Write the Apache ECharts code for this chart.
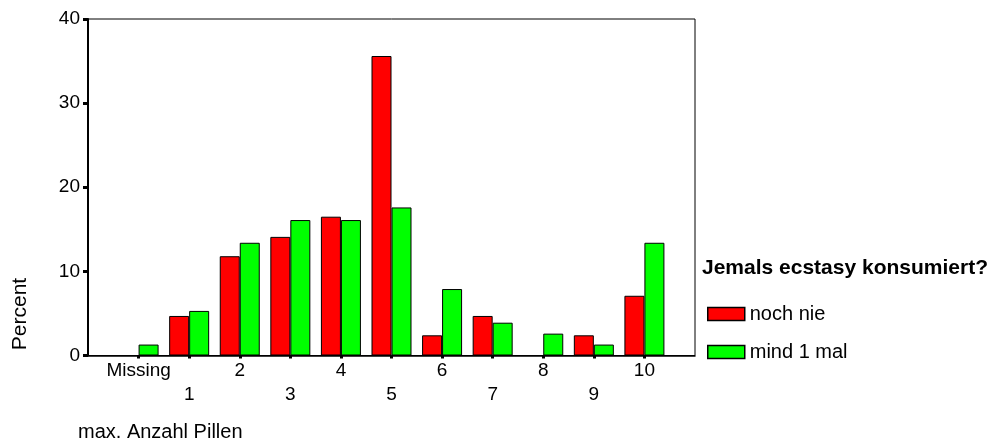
<!DOCTYPE html>
<html>
<head>
<meta charset="utf-8">
<script src="https://cdn.jsdelivr.net/npm/echarts@6/dist/echarts.min.js"></script>
<style>
html,body{margin:0;padding:0;background:#fff;}
#chart{width:996px;height:441px;}
</style>
</head>
<body>
<div id="chart"></div>
<script>
// Data
var categories = ['Missing', '1', '2', '3', '4', '5', '6', '7', '8', '9', '10'];
var seriesNames = ['noch nie', 'mind 1 mal'];
var neverPct = [0, 4.7, 11.8, 14.1, 16.5, 35.6, 2.4, 4.7, 0, 2.4, 7.1];
var oncePct = [1.3, 5.3, 13.4, 16.1, 16.1, 17.6, 7.9, 3.9, 2.6, 1.3, 13.4];
var yTicks = [0, 10, 20, 30, 40];
var legendTitle = 'Jemals ecstasy konsumiert?';
var xAxisTitle = 'max. Anzahl Pillen';
var yAxisTitle = 'Percent';

// padded axis so categories sit on whole-slot positions like the original
var axisData = [''].concat(categories, ['']);
function pad(arr) { return ['-'].concat(arr, ['-']); }

var FONT = '"Liberation Sans", Arial, sans-serif';
var chart = echarts.init(document.getElementById('chart'));
chart.setOption({
  backgroundColor: '#fff',
  animation: false,
  textStyle: { fontFamily: FONT, color: '#000' },
  title: [
    { text: legendTitle, left: 702, top: 258, padding: 0,
      textStyle: { fontFamily: FONT, fontSize: 21, fontWeight: 'bold', color: '#000', lineHeight: 21 } },
    { text: xAxisTitle, left: 78, top: 422, padding: 0,
      textStyle: { fontFamily: FONT, fontSize: 20, fontWeight: 'normal', color: '#000', lineHeight: 20 } }
  ],
  graphic: [
    { type: 'text', x: 20, y: 314, rotation: Math.PI / 2,
      style: { text: yAxisTitle, fill: '#000', font: '21px ' + FONT, align: 'center', verticalAlign: 'middle' } }
  ],
  legend: {
    data: seriesNames,
    orient: 'vertical',
    left: 707, top: 304, padding: 0,
    itemWidth: 37, itemHeight: 13, itemGap: 18,
    icon: 'rect',
    itemStyle: { borderColor: '#000', borderWidth: 1.5 },
    textStyle: { fontFamily: FONT, fontSize: 20, color: '#000', lineHeight: 13 }
  },
  grid: {
    left: 88, right: 301, top: 19, bottom: 85.5,
    show: true, borderColor: '#000', borderWidth: 1, backgroundColor: 'transparent'
  },
  xAxis: {
    type: 'category',
    data: axisData,
    boundaryGap: false,
    axisLine: { lineStyle: { color: '#000', width: 1.5 } },
    axisTick: { show: true, length: 3, lineStyle: { color: '#000', width: 3 },
      interval: function (idx) { return idx > 0 && idx < axisData.length - 1; } },
    axisLabel: {
      interval: 0, margin: 3, color: '#000', fontFamily: FONT, fontSize: 19, lineHeight: 24,
      formatter: function (v, idx) { return (idx % 2 === 0 && v !== '') ? '\n' + v : v; }
    },
    splitLine: { show: false }
  },
  yAxis: {
    type: 'value',
    min: yTicks[0], max: yTicks[yTicks.length - 1], interval: 10,
    axisLine: { show: true, lineStyle: { color: '#000', width: 2 } },
    axisTick: { show: true, length: 5, lineStyle: { color: '#000', width: 3 } },
    axisLabel: { color: '#000', fontFamily: FONT, fontSize: 19, margin: 8 },
    splitLine: { show: false }
  },
  series: [
    { name: seriesNames[0], type: 'bar', data: pad(neverPct), barWidth: 20, barGap: '0%',
      itemStyle: { color: '#ff0000', borderColor: '#000', borderWidth: 1 } },
    { name: seriesNames[1], type: 'bar', data: pad(oncePct), barWidth: 20, barGap: '0%',
      itemStyle: { color: '#00ff00', borderColor: '#000', borderWidth: 1 } }
  ]
});
</script>
</body>
</html>
